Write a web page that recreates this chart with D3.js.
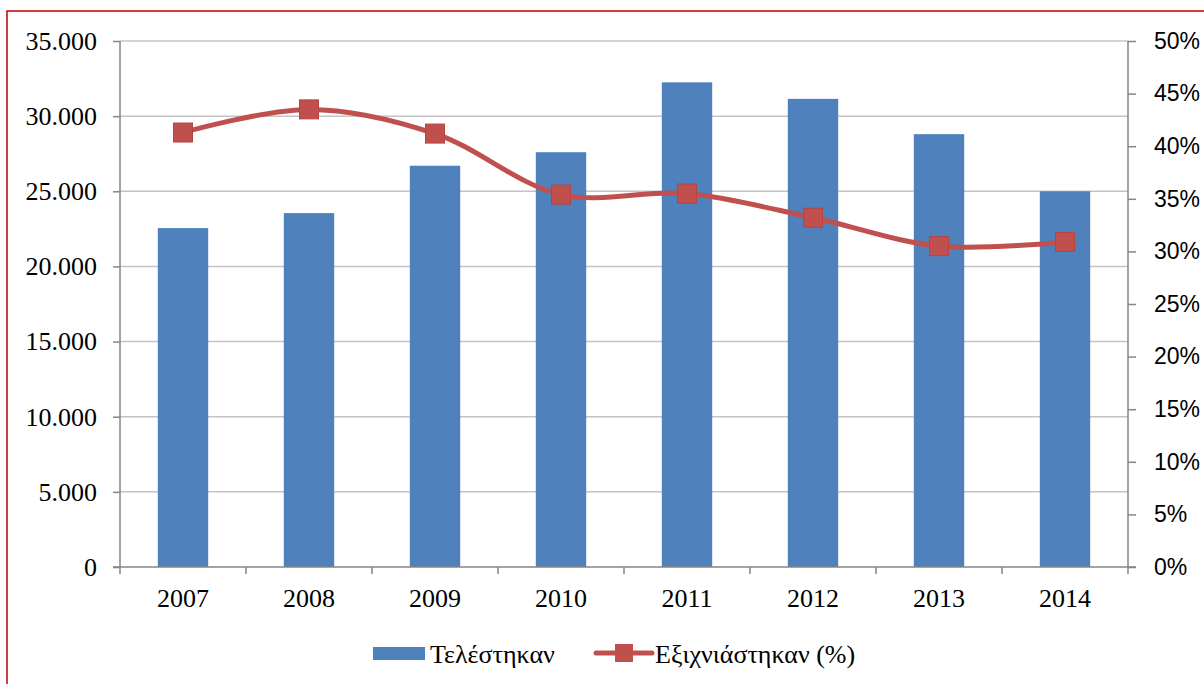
<!DOCTYPE html>
<html>
<head>
<meta charset="utf-8">
<script src="https://cdn.jsdelivr.net/npm/d3@7"></script>
<style>
  body { margin: 0; background: #fff; }
  .serif { font-family: "Liberation Serif", "Times New Roman", "DejaVu Serif", serif; font-size: 26px; }
  .sans { font-family: "Liberation Sans", Arial, sans-serif; font-size: 23px; }
</style>
</head>
<body>
<div class="chart"></div>
<script>
// Paramètres
const width = 1204;
const height = 684;
const margin = { top: 41, right: 76, bottom: 117, left: 120 };

const years = ['2007', '2008', '2009', '2010', '2011', '2012', '2013', '2014'];
const committed = [22550, 23550, 26700, 27600, 32250, 31150, 28800, 25000];
const solvedPct = [41.3, 43.5, 41.2, 35.4, 35.5, 33.2, 30.5, 30.9];
const leftTicks = [0, 5000, 10000, 15000, 20000, 25000, 30000, 35000];
const rightTicks = [0, 5, 10, 15, 20, 25, 30, 35, 40, 45, 50];
const seriesNames = ['Τελέστηκαν', 'Εξιχνιάστηκαν (%)'];

const barColor = '#4f81bd';
const lineColor = '#c0504d';
const axisColor = '#868686';
const gridColor = '#c4c4c4';

const svg = d3.select('.chart')
  .append('svg')
  .attr('width', width)
  .attr('height', height);

// cadre rouge
svg.append('rect')
  .attr('x', 7).attr('y', 11)
  .attr('width', width + 20).attr('height', height + 20)
  .attr('fill', 'none')
  .attr('stroke', '#c00000')
  .attr('stroke-width', 1.5);

const x = d3.scaleBand()
  .domain(years)
  .range([margin.left, width - margin.right])
  .padding(0);

const yLeft = d3.scaleLinear()
  .domain([0, 35000])
  .range([height - margin.bottom, margin.top]);

const yRight = d3.scaleLinear()
  .domain([0, 50])
  .range([height - margin.bottom, margin.top]);

const fmt = d3.formatLocale({ decimal: ',', thousands: '.', grouping: [3], currency: ['', ''] }).format(',d');

// grille
svg.append('g')
  .selectAll('line')
  .data(leftTicks.filter(d => d > 0))
  .join('line')
    .attr('x1', margin.left)
    .attr('x2', width - margin.right)
    .attr('y1', d => yLeft(d))
    .attr('y2', d => yLeft(d))
    .attr('stroke', gridColor)
    .attr('stroke-width', 1.5);

// barres
const barW = x.bandwidth() * 0.4;
svg.append('g')
  .selectAll('rect')
  .data(committed)
  .join('rect')
    .attr('x', (d, i) => x(years[i]) + x.bandwidth() / 2 - barW / 2)
    .attr('y', d => yLeft(d))
    .attr('width', barW)
    .attr('height', d => yLeft(0) - yLeft(d))
    .attr('fill', barColor);

// axe gauche
svg.append('g')
  .attr('transform', `translate(${margin.left}, 0)`)
  .call(d3.axisLeft(yLeft).tickValues(leftTicks).tickFormat(fmt).tickSize(7).tickPadding(16))
  .attr('font-family', null).attr('font-size', null)
  .call(g => g.selectAll('line, path').attr('stroke', axisColor).attr('stroke-width', 1.5))
  .call(g => g.select('.domain').attr('d', `M0,${yLeft(0)}V${yLeft(35000)}`))
  .call(g => g.selectAll('text').attr('fill', '#000').attr('class', 'serif'));

// axe droit
svg.append('g')
  .attr('transform', `translate(${width - margin.right}, 0)`)
  .call(d3.axisRight(yRight).tickValues(rightTicks).tickFormat(d => d + '%').tickSize(8).tickPadding(18))
  .attr('font-family', null).attr('font-size', null)
  .call(g => g.selectAll('line, path').attr('stroke', axisColor).attr('stroke-width', 1.5))
  .call(g => g.select('.domain').attr('d', `M0,${yRight(0)}V${yRight(50)}`))
  .call(g => g.selectAll('text').attr('fill', '#000').attr('class', 'sans'));

// axe horizontal
const xAxis = svg.append('g')
  .attr('transform', `translate(0, ${height - margin.bottom})`);
xAxis.append('line')
  .attr('x1', margin.left - 7).attr('x2', width - margin.right + 8)
  .attr('stroke', axisColor).attr('stroke-width', 1.5);
xAxis.selectAll('line.tick')
  .data(years.concat(['end']))
  .join('line')
    .attr('class', 'tick')
    .attr('x1', d => d === 'end' ? width - margin.right : x(d))
    .attr('x2', d => d === 'end' ? width - margin.right : x(d))
    .attr('y1', 0).attr('y2', 7)
    .attr('stroke', axisColor).attr('stroke-width', 1.5);
xAxis.selectAll('text')
  .data(years)
  .join('text')
    .attr('class', 'serif')
    .attr('x', d => x(d) + x.bandwidth() / 2)
    .attr('y', 40)
    .attr('text-anchor', 'middle')
    .text(d => d);

// ligne
const line = d3.line()
  .x((d, i) => x(years[i]) + x.bandwidth() / 2)
  .y(d => yRight(d))
  .curve(d3.curveCatmullRom.alpha(0.5));

svg.append('path')
  .datum(solvedPct)
  .attr('d', line)
  .attr('fill', 'none')
  .attr('stroke', lineColor)
  .attr('stroke-width', 5);

const mk = 19;
svg.append('g')
  .selectAll('rect')
  .data(solvedPct)
  .join('rect')
    .attr('x', (d, i) => x(years[i]) + x.bandwidth() / 2 - mk / 2)
    .attr('y', d => yRight(d) - mk / 2)
    .attr('width', mk)
    .attr('height', mk)
    .attr('fill', lineColor)
    .attr('stroke', '#b5443f')
    .attr('stroke-width', 1);

// légende
const legend = svg.append('g');
legend.append('rect')
  .attr('x', 373).attr('y', 647)
  .attr('width', 52).attr('height', 13)
  .attr('fill', barColor);
legend.append('text')
  .attr('class', 'serif')
  .attr('x', 430).attr('y', 663)
  .text(seriesNames[0]);
legend.append('line')
  .attr('x1', 596).attr('x2', 652)
  .attr('y1', 653).attr('y2', 653)
  .attr('stroke', lineColor).attr('stroke-width', 5)
  .attr('stroke-linecap', 'round');
legend.append('rect')
  .attr('x', 615).attr('y', 644)
  .attr('width', 18).attr('height', 18)
  .attr('fill', lineColor);
legend.append('text')
  .attr('class', 'serif')
  .attr('x', 655).attr('y', 663)
  .text(seriesNames[1]);
</script>
</body>
</html>
